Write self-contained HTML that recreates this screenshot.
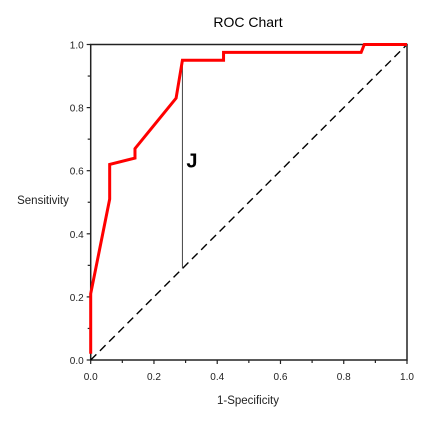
<!DOCTYPE html>
<html><head><meta charset="utf-8"><style>
html,body{margin:0;padding:0;background:#fff}
svg{display:block;font-family:"Liberation Sans",Arial,sans-serif}
</style></head><body>
<svg id="chart" width="440" height="423">
<text x="248" y="27" font-size="14" text-anchor="middle" fill="#000">ROC Chart</text>
<text x="248" y="404" font-size="11.5" text-anchor="middle" fill="#222">1-Specificity</text>
<text x="43" y="204" font-size="11.5" text-anchor="middle" fill="#222">Sensitivity</text>
<g id="axes"></g>
<g id="marks"></g>
</svg>
<script>
const ticks = [0, 0.2, 0.4, 0.6, 0.8, 1.0];
const tickLabels = ["0.0", "0.2", "0.4", "0.6", "0.8", "1.0"];
const rocFpr = [0, 0, 0.06, 0.06, 0.14, 0.14, 0.27, 0.29, 0.42, 0.42, 0.855, 0.865, 1.0];
const rocTpr = [0.02, 0.21, 0.51, 0.62, 0.64, 0.67, 0.83, 0.95, 0.95, 0.975, 0.975, 1.0, 1.0];
const jX = [0.29];
const jLow = [0.29];
const jHigh = [0.95];

const X0 = 90.7, X1 = 407, Y0 = 360, Y1 = 44.5;
const sx = v => X0 + (X1 - X0) * v;
const sy = v => Y0 - (Y0 - Y1) * v;
const NS = "http://www.w3.org/2000/svg";
const axes = document.getElementById('axes');
const marks = document.getElementById('marks');
function mk(tag, attrs, parent) {
  const e = document.createElementNS(NS, tag);
  for (const k in attrs) e.setAttribute(k, attrs[k]);
  parent.appendChild(e);
  return e;
}

// diagonal
const diag = mk('line', {x1: sx(0), y1: sy(0), x2: sx(1), y2: sy(1), stroke: '#000', 'stroke-width': 1.4, 'stroke-dasharray': '8,5'}, marks);



// J line
const jl = mk('line', {x1: sx(jX[0]), y1: sy(jLow[0]), x2: sx(jX[0]), y2: sy(jHigh[0]), stroke: '#444', 'stroke-width': 1}, marks);


const jt = mk('text', {x: sx(jX[0]) + 4, y: sy(0.61), 'font-size': 20, 'font-weight': 'bold', fill: '#000'}, marks);
jt.textContent = 'J';



// ROC curve
const pts = rocFpr.map((f, i) => sx(f) + ',' + sy(rocTpr[i])).join(' ');
const roc = mk('polyline', {points: pts, fill: 'none', stroke: '#ff0000', 'stroke-width': 3, 'stroke-linejoin': 'miter'}, marks);



// frame
const frame = mk('rect', {x: X0, y: Y1, width: X1 - X0, height: Y0 - Y1, fill: 'none', stroke: '#222', 'stroke-width': 1.5}, axes);



// ticks
for (let i = 0; i <= 10; i++) {
  const v = i / 10;
  const major = i % 2 === 0;
  const xt = mk('line', {x1: sx(v), y1: Y0, x2: sx(v), y2: Y0 + (major ? 4 : 3), stroke: '#222', 'stroke-width': 1.2}, axes);
  
  
  const yt = mk('line', {x1: X0, y1: sy(v), x2: X0 - (major ? 4 : 3), y2: sy(v), stroke: '#222', 'stroke-width': 1.2}, axes);
  
  
}
ticks.forEach((v, i) => {
  const xl = mk('text', {x: sx(v), y: Y0 + 20, 'font-size': 10, 'text-anchor': 'middle', fill: '#222'}, axes);
  xl.textContent = tickLabels[i];
  
  
  const yl = mk('text', {x: X0 - 7, y: sy(v) + 4, 'font-size': 10, 'text-anchor': 'end', fill: '#222'}, axes);
  yl.textContent = tickLabels[i];
  
  
});
</script>
</body></html>
